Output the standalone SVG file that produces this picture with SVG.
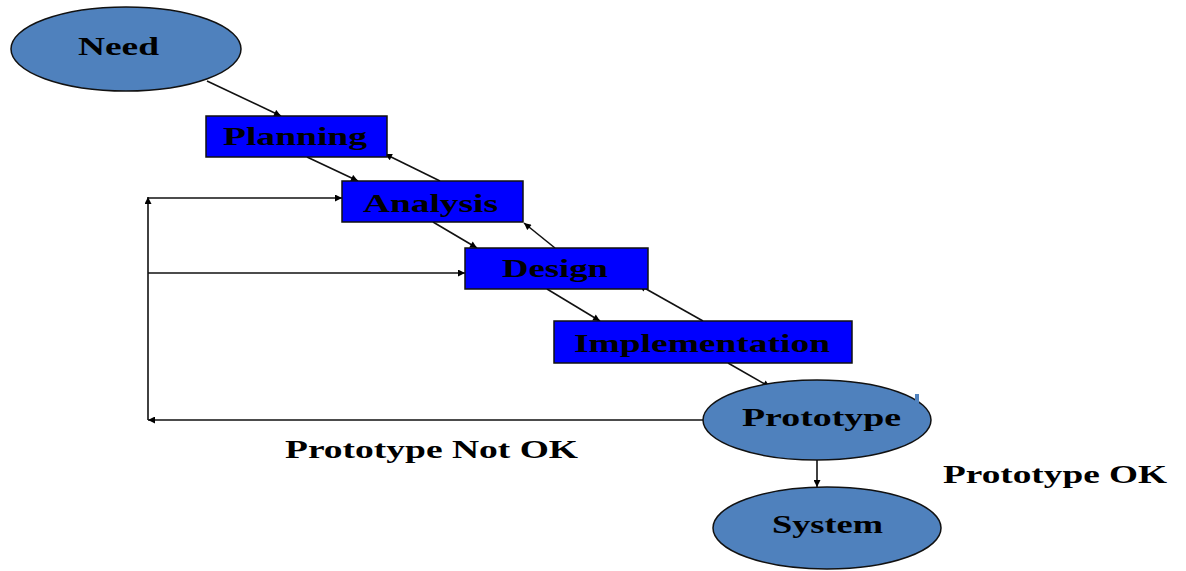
<svg xmlns="http://www.w3.org/2000/svg" width="1186" height="571" viewBox="0 0 1186 571">
  <defs>
    <marker id="arrow" viewBox="0 0 10 10" refX="10" refY="5" markerWidth="9" markerHeight="7" markerUnits="userSpaceOnUse" orient="auto">
      <path d="M0,0 L10,5 L0,10 z" fill="#000"/>
    </marker>
    <style>
      .oval { fill: #4F81BD; stroke: #111; stroke-width: 1.5; }
      .box { fill: #0000FF; stroke: #111; stroke-width: 1.5; }
      .lbl { font-family: "Liberation Serif", "Times New Roman", serif; font-weight: bold; font-size: 26px; fill: #000; }
      .edge { fill: none; stroke: #111; stroke-width: 1.6; }
      .arr { marker-end: url(#arrow); }
    </style>
  </defs>
  <rect width="1186" height="571" fill="#fff"/>

  <!-- connectors -->
  <g id="connectors">
    <line class="edge arr" x1="207" y1="81" x2="281" y2="116"/>
    <line class="edge arr" x1="307" y1="157" x2="358" y2="181"/>
    <line class="edge arr" x1="440" y1="181" x2="385" y2="154"/>
    <line class="edge arr" x1="433" y1="222" x2="477" y2="248"/>
    <line class="edge arr" x1="555" y1="248" x2="524" y2="223"/>
    <line class="edge arr" x1="547" y1="289" x2="600" y2="321"/>
    <line class="edge arr" x1="703" y1="321" x2="639" y2="285"/>
    <line class="edge arr" x1="728" y1="363" x2="770" y2="387"/>
    <line class="edge arr" x1="817" y1="460" x2="817" y2="487"/>
    <!-- "not OK" feedback loop -->
    <line class="edge arr" x1="703" y1="420" x2="148" y2="420"/>
    <line class="edge arr" x1="148" y1="420" x2="148" y2="197"/>
    <line class="edge arr" x1="148" y1="198" x2="342" y2="198"/>
    <line class="edge arr" x1="148" y1="273" x2="465" y2="273"/>
  </g>

  <g id="need">
    <ellipse class="oval" cx="126" cy="49" rx="115" ry="42"/>
    <text class="lbl" x="78" y="55" textLength="81" lengthAdjust="spacingAndGlyphs">Need</text>
  </g>

  <g id="planning">
    <rect class="box" x="206" y="116" width="181" height="41"/>
    <text class="lbl" x="223" y="145" textLength="144" lengthAdjust="spacingAndGlyphs">Planning</text>
  </g>

  <g id="analysis">
    <rect class="box" x="342" y="181" width="181" height="41"/>
    <text class="lbl" x="363" y="212" textLength="135" lengthAdjust="spacingAndGlyphs">Analysis</text>
  </g>

  <g id="design">
    <rect class="box" x="465" y="248" width="183" height="41"/>
    <text class="lbl" x="502" y="277" textLength="106" lengthAdjust="spacingAndGlyphs">Design</text>
  </g>

  <g id="implementation">
    <rect class="box" x="554" y="321" width="298" height="42"/>
    <text class="lbl" x="574" y="352" textLength="256" lengthAdjust="spacingAndGlyphs">Implementation</text>
  </g>

  <g id="prototype">
    <ellipse class="oval" cx="817" cy="420" rx="114" ry="40"/>
    <rect x="915" y="394" width="4" height="9" fill="#4F81BD"/>
    <text class="lbl" x="742" y="426" textLength="159" lengthAdjust="spacingAndGlyphs">Prototype</text>
  </g>

  <g id="system">
    <ellipse class="oval" cx="827" cy="528" rx="114" ry="41"/>
    <text class="lbl" x="772" y="533" textLength="111" lengthAdjust="spacingAndGlyphs">System</text>
  </g>

  <g id="labels">
    <text class="lbl" x="285" y="458" textLength="293" lengthAdjust="spacingAndGlyphs">Prototype Not OK</text>
    <text class="lbl" x="943" y="483" textLength="224" lengthAdjust="spacingAndGlyphs">Prototype OK</text>
  </g>
</svg>
